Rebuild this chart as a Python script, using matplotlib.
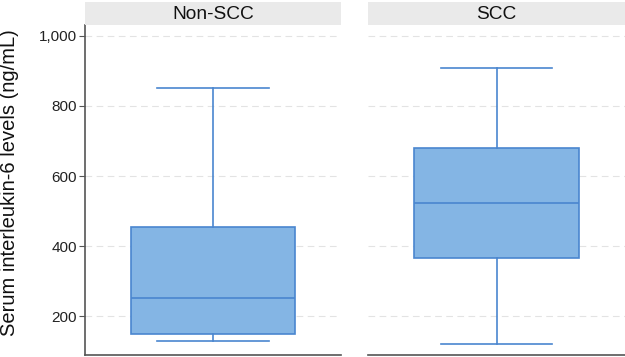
import matplotlib
matplotlib.use("Agg")
import matplotlib.pyplot as plt
from matplotlib.patches import Rectangle

plt.rcParams['font.family'] = ['Liberation Sans', 'DejaVu Sans']

groups = ["Non-SCC", "SCC"]
whisker_lo = [130, 120]
q1 = [148, 367]
median = [251, 524]
q3 = [454, 681]
whisker_hi = [851, 909]
yticks = [200, 400, 600, 800, 1000]
yticklabels = ["200", "400", "600", "800", "1,000"]

fill = "#84b5e4"
edge = "#4a86cf"

W, H = 625, 357
fig = plt.figure(figsize=(W / 100, H / 100), dpi=100)

panels = [(85, 341), (368, 625)]
top_px, bot_px = 24.7, 355
strip_top = 2

for i, (x0, x1) in enumerate(panels):
    ax = fig.add_axes([x0 / W, 1 - bot_px / H, (x1 - x0) / W, (bot_px - top_px) / H])
    stats = [dict(med=median[i], q1=q1[i], q3=q3[i], whislo=whisker_lo[i],
                  whishi=whisker_hi[i], fliers=[], label=groups[i])]
    ax.bxp(stats, positions=[0], widths=0.64, capwidths=0.434, patch_artist=True,
           showfliers=False,
           boxprops=dict(facecolor=fill, edgecolor=edge, linewidth=1.2),
           medianprops=dict(color=edge, linewidth=1.2),
           whiskerprops=dict(color=edge, linewidth=1.2),
           capprops=dict(color=edge, linewidth=1.2))
    ax.set_xlim(-0.5, 0.5)
    ax.set_ylim(89, 1032)
    ax.set_yticks(yticks)
    ax.set_xticks([])
    ax.grid(axis='y', color='#e3e3e3', linestyle=(0, (6, 4)), linewidth=0.8)
    ax.set_axisbelow(True)
    for s in ['top', 'right']:
        ax.spines[s].set_visible(False)
    ax.spines['bottom'].set_color('#555555')
    ax.spines['bottom'].set_linewidth(1.2)
    if i == 0:
        ax.set_yticklabels(yticklabels, fontsize=11, color='#222222')
        ax.spines['left'].set_color('#555555')
        ax.spines['left'].set_linewidth(1.2)
        ax.tick_params(axis='y', length=4, color='#555555', pad=2)
    else:
        ax.spines['left'].set_visible(False)
        ax.tick_params(axis='y', length=0, labelleft=False)
    # strip header
    sax = fig.add_axes([x0 / W, 1 - top_px / H, (x1 - x0) / W, (top_px - strip_top) / H])
    sax.add_patch(Rectangle((0, 0), 1, 1, color='#eaeaea', transform=sax.transAxes))
    sax.text(0.5, 0.45, groups[i], ha='center', va='center', fontsize=13.8, color='#111111')
    sax.set_axis_off()

fig.text(10 / W, 1 - 183 / H, "Serum interleukin-6 levels (ng/mL)", rotation=90,
         ha='center', va='center', fontsize=14.5, color='#111111')

fig.savefig("out.png", dpi=100)
